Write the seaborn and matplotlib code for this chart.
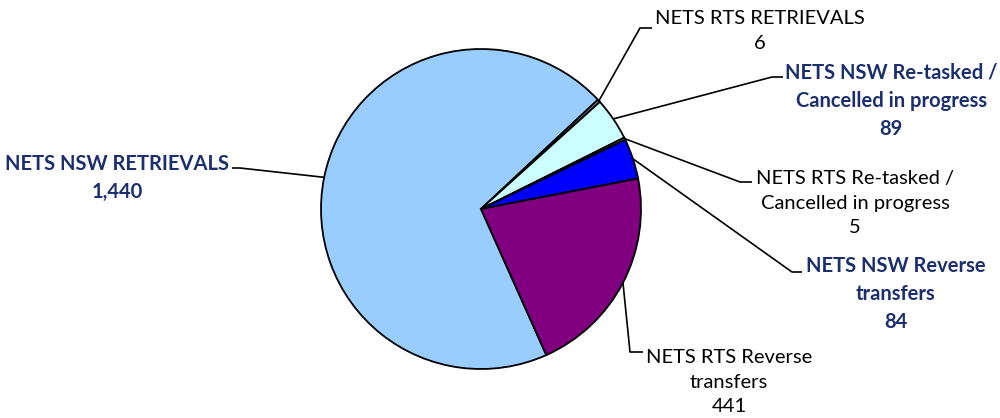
import numpy as np
import matplotlib
matplotlib.use("Agg")
import matplotlib.pyplot as plt
import seaborn as sns

categories = ["NETS NSW RETRIEVALS", "NETS RTS RETRIEVALS",
              "NETS NSW Re-tasked /\nCancelled in progress",
              "NETS RTS Re-tasked /\nCancelled in progress",
              "NETS NSW Reverse\ntransfers", "NETS RTS Reverse\ntransfers"]
values = [1440, 6, 89, 5, 84, 441]
colors = ["#99CCFF", "#8C8CA8", "#CCFFFF", "#996633", "#0000FF", "#800080"]
bold = [True, False, True, False, True, False]

sns.set_theme(style="white")
plt.rcParams['font.family'] = ['Lato', 'DejaVu Sans']

W, H = 1000, 418
fig = plt.figure(figsize=(W / 100, H / 100), dpi=100)
ax = fig.add_axes([0, 0, 1, 1])
cx, cy, R = 481, 209, 160  # pixel layout of the pie


def px(x, y):
    return ((x - cx) / R, (cy - y) / R)


start = -65.9
wedges, _ = ax.pie(values, colors=colors, startangle=start, counterclock=False,
                   radius=1, center=(0, 0),
                   wedgeprops=dict(edgecolor="black", linewidth=1.3))
ax.set_xlim((0 - cx) / R, (W - cx) / R)
ax.set_ylim((cy - H) / R, cy / R)
ax.set_aspect("equal")
ax.axis("off")

# leader layout: (elbow px, end px, text anchor px, ha)
layout = [
    ((240, 168), (232, 168), (229, 178), "right"),
    ((640, 28), (652, 28), (655, 31), "left"),
    ((772, 77), (783, 77), (785, 101), "left"),
    ((740, 182), (752, 182), (756, 203), "left"),
    ((792, 272), (802, 272), (806, 294), "left"),
    ((630, 352), (643, 352), (646, 382), "left"),
]

for w, cat, val, b, (elb, end, tp, ha) in zip(wedges, categories, values, bold, layout):
    mid = np.deg2rad((w.theta1 + w.theta2) / 2)
    p0 = (np.cos(mid), np.sin(mid))
    e1 = px(*elb)
    e2 = px(*end)
    ax.plot([p0[0], e1[0], e2[0]], [p0[1], e1[1], e2[1]], color="black", lw=1.2,
            solid_capstyle="butt", zorder=5)
    ax.text(*px(*tp), f"{cat}\n{val:,}", ha=ha, va="center", multialignment="center",
            fontsize=14.5, fontweight="bold" if b else "normal",
            color="#1B2F6E" if b else "black", linespacing=1.52)

fig.savefig("out.png", dpi=100)
